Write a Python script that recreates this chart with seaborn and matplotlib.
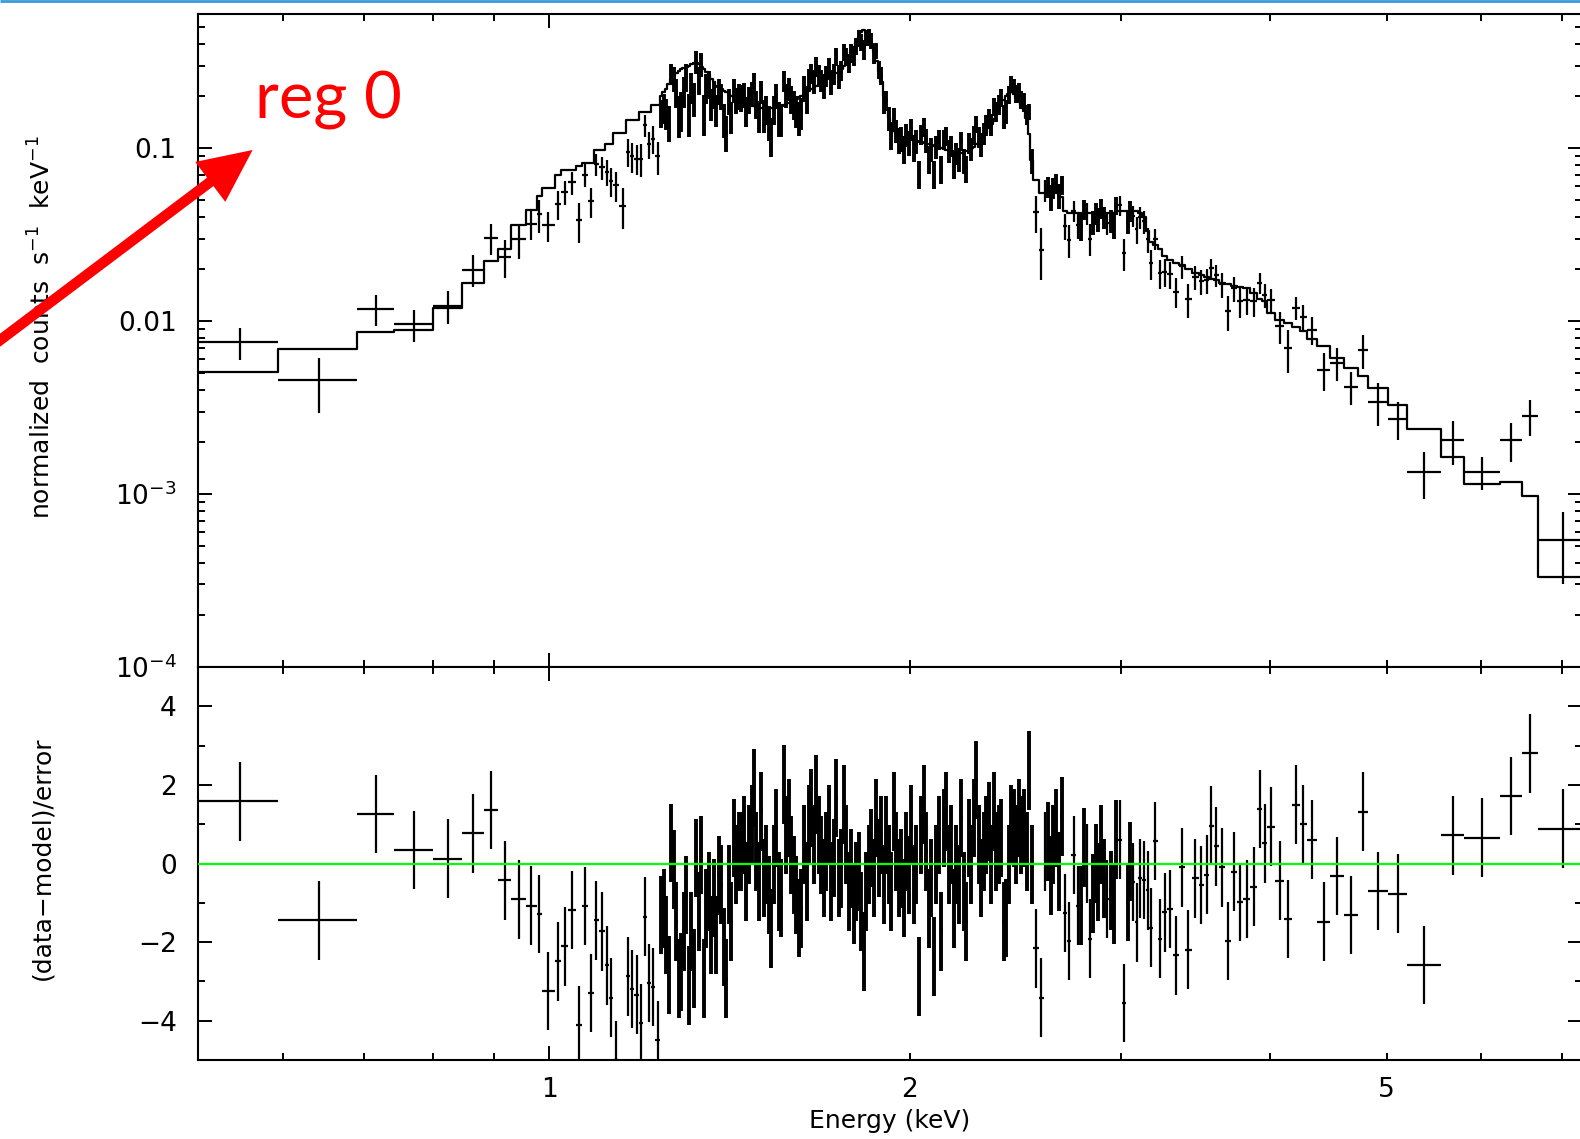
import numpy as np
import matplotlib
matplotlib.use("Agg")
import matplotlib.pyplot as plt
import seaborn as sns
from matplotlib.ticker import FixedLocator, FixedFormatter, FuncFormatter, NullFormatter
from matplotlib.patches import FancyArrow

# ---------------------------------------------------------------------------
# Spectrum of region 0: grouped channel edges (keV), folded model
# (counts s^-1 keV^-1), fit residuals in sigma and fractional 1-sigma errors.
# ---------------------------------------------------------------------------
bin_edges_kev = [
    # 0.5 - 1.0 keV, wide groups
    0.509, 0.594, 0.6906, 0.7428, 0.800, 0.8458, 0.8815, 0.9069, 0.9293, 0.9569, 0.9763, 0.9857,
    # 1.0 - 1.24 keV
    1.0112, 1.0229, 1.0378, 1.0525, 1.0651, 1.0781, 1.0893, 1.1011, 1.1126, 1.1214, 1.1305,
    1.1436, 1.1602, 1.1688, 1.1778, 1.1878, 1.1972, 1.2069, 1.2157, 1.2263, 1.2373,
    # 1.24 - 2.53 keV, fine groups (Mg / Si / S complex)
    1.243, 1.249, 1.255, 1.261, 1.268, 1.274, 1.280, 1.286,
    1.292, 1.299, 1.305, 1.311, 1.318, 1.324, 1.330, 1.337,
    1.343, 1.350, 1.356, 1.363, 1.369, 1.376, 1.382, 1.389,
    1.396, 1.402, 1.409, 1.416, 1.423, 1.430, 1.436, 1.443,
    1.450, 1.457, 1.464, 1.472, 1.479, 1.486, 1.493, 1.500,
    1.507, 1.515, 1.522, 1.529, 1.536, 1.544, 1.551, 1.558,
    1.566, 1.573, 1.581, 1.589, 1.597, 1.604, 1.612, 1.620,
    1.628, 1.636, 1.644, 1.651, 1.659, 1.667, 1.675, 1.683,
    1.691, 1.700, 1.708, 1.716, 1.724, 1.733, 1.741, 1.749,
    1.758, 1.766, 1.775, 1.783, 1.792, 1.800, 1.809, 1.817,
    1.826, 1.835, 1.844, 1.853, 1.862, 1.871, 1.880, 1.889,
    1.898, 1.907, 1.917, 1.926, 1.935, 1.945, 1.954, 1.963,
    1.973, 1.982, 1.992, 2.001, 2.011, 2.021, 2.030, 2.040,
    2.050, 2.060, 2.070, 2.080, 2.090, 2.100, 2.110, 2.120,
    2.130, 2.141, 2.151, 2.161, 2.172, 2.182, 2.193, 2.203,
    2.214, 2.224, 2.235, 2.246, 2.257, 2.267, 2.278, 2.289,
    2.300, 2.311, 2.322, 2.334, 2.345, 2.356, 2.367, 2.378,
    2.390, 2.402, 2.413, 2.425, 2.437, 2.449, 2.460, 2.472,
    2.484, 2.497, 2.509, 2.522, 2.534,
    # 2.53 - 4.8 keV
    2.5646, 2.5874, 2.6043, 2.6169, 2.6295, 2.6421, 2.6564, 2.6707, 2.6862, 2.7043,
    2.7267, 2.7531, 2.7737, 2.7876, 2.8000, 2.8184, 2.8374, 2.8505, 2.8659, 2.8825,
    2.8975, 2.9143, 2.9340, 2.9509, 2.9663, 2.9829, 3.0059, 3.0326, 3.0501, 3.0630,
    3.0831, 3.1033, 3.1237, 3.1490, 3.1690, 3.1922, 3.2206, 3.2479, 3.2793, 3.3192,
    3.3570, 3.3927, 3.4406, 3.4845, 3.5209, 3.5570, 3.5858, 3.6233, 3.6681, 3.7099,
    3.7515, 3.7943, 3.8479, 3.9007, 3.9353, 3.9764, 4.0389, 4.1063, 4.1731, 4.2320,
    4.2910, 4.3776, 4.4866, 4.6098, 4.7338, 4.8245,
    # hard band, wide groups
    5.0139, 5.2033, 5.5515, 5.8024, 6.2217, 6.4866, 6.6892, 7.3441,
]

model_rate = [
    0.00505, 0.00687, 0.0087, 0.0089, 0.0119, 0.0166, 0.0221, 0.026, 0.036, 0.044, 0.053,
    0.0587, 0.070, 0.0748, 0.0748, 0.0788, 0.0817, 0.0817, 0.0975, 0.0975, 0.1055, 0.1055,
    0.1217, 0.1217, 0.145, 0.145, 0.145, 0.162, 0.162, 0.162, 0.177, 0.177,
    0.200, 0.210, 0.220, 0.235, 0.250, 0.260, 0.270, 0.280,
    0.285, 0.290, 0.295, 0.300, 0.305, 0.310, 0.310, 0.305,
    0.295, 0.285, 0.275, 0.265, 0.250, 0.240, 0.230, 0.225,
    0.220, 0.215, 0.210, 0.205, 0.200, 0.195, 0.190, 0.190,
    0.185, 0.180, 0.180, 0.175, 0.175, 0.175, 0.170, 0.170,
    0.170, 0.168, 0.168, 0.168, 0.170, 0.170, 0.172, 0.175,
    0.175, 0.178, 0.180, 0.183, 0.186, 0.190, 0.193, 0.197,
    0.200, 0.205, 0.210, 0.215, 0.220, 0.225, 0.230, 0.236,
    0.240, 0.245, 0.250, 0.255, 0.260, 0.265, 0.270, 0.275,
    0.285, 0.300, 0.320, 0.340, 0.360, 0.385, 0.410, 0.440,
    0.470, 0.480, 0.470, 0.440, 0.400, 0.360, 0.320, 0.280,
    0.240, 0.200, 0.170, 0.150, 0.135, 0.125, 0.120, 0.118,
    0.116, 0.115, 0.114, 0.113, 0.112, 0.111, 0.110, 0.109,
    0.108, 0.107, 0.106, 0.105, 0.104, 0.103, 0.102, 0.101,
    0.100, 0.099, 0.098, 0.097, 0.096, 0.095, 0.094, 0.094,
    0.094, 0.095, 0.096, 0.098, 0.100, 0.102, 0.105, 0.108,
    0.112, 0.117, 0.123, 0.130, 0.138, 0.147, 0.157, 0.168,
    0.180, 0.190, 0.200, 0.205, 0.210, 0.205, 0.195, 0.185,
    0.175, 0.165, 0.150, 0.120, 0.085,
    0.065, 0.0548, 0.0548, 0.0548, 0.0548, 0.0548, 0.0548, 0.0548, 0.052,
    0.043, 0.042, 0.042, 0.042, 0.042, 0.042, 0.042, 0.042, 0.042, 0.042, 0.042, 0.042,
    0.042, 0.042, 0.042, 0.042,
    0.043, 0.043, 0.043, 0.043, 0.043, 0.043, 0.043,
    0.042, 0.040, 0.033, 0.0285, 0.0276, 0.026, 0.0237, 0.0226, 0.0217, 0.021, 0.020,
    0.019, 0.0185, 0.018, 0.0175, 0.0172, 0.0166, 0.0164, 0.016, 0.0157, 0.0155, 0.0145,
    0.0135, 0.013, 0.0112, 0.0102, 0.0097, 0.0092, 0.0088, 0.0079, 0.00714, 0.00612,
    0.00536, 0.0048,
    0.00408, 0.00325, 0.00238, 0.00164, 0.00115, 0.00117, 0.00098, 0.00033,
]

delchi = [
    1.58, -1.45, 1.26, 0.34, 0.12, 0.77, 1.36, -0.43, -0.91, -1.07, -1.29,
    -3.24, -2.49, -2.11, -1.18, -4.12, -1.08, -3.30, -1.45, -1.73, -2.59, -3.41,
    -5.00, -6.20, -2.87, -3.19, -3.34, -4.06, -1.35, -3.04, -3.14, -4.49,
    -1.31, -1.14, -1.82, -2.84, 0.52, -0.16, -1.48, -2.93,
    -2.76, -1.73, -0.80, -3.10, -1.73, -2.67, 0.14, -1.22,
    0.22, -2.93, -1.14, -0.71, -1.82, -0.88, -1.82, -0.30,
    -0.54, -2.12, -2.93, -0.54, -1.48, 0.65, -0.03, 0.31,
    0.31, 0.73, -0.46, 0.48, 0.99, 1.92, 0.31, -0.46,
    1.33, -0.37, -0.03, -0.80, -1.65, -0.03, 0.90, -0.71,
    -0.88, 2.01, 0.73, 1.16, 0.22, -0.29, -0.80, -1.39,
    -1.14, 0.48, -0.46, 0.99, 1.41, 0.48, 1.75, 0.73,
    0.22, -0.37, 0.31, 0.99, -0.46, 0.14, 1.67, -0.37,
    -0.12, 1.50, 0.48, -0.71, -0.12, -1.05, -0.46, -0.20,
    -1.22, -2.24, -0.71, -0.03, 0.39, -0.37, 1.16, 0.14,
    0.73, -0.54, 0.73, -0.03, -0.71, 1.33, 0.31, -0.37,
    -0.12, -0.88, 0.31, -0.29, 0.99, -0.54, -0.03, -2.87,
    0.73, 1.50, 0.31, -1.14, -0.37, -2.37, -0.03, 0.73,
    -1.73, 0.90, 1.33, -0.03, 0.48, -1.14, -0.03, -0.54,
    1.16, -0.71, -1.48, 0.65, -0.03, 1.16, 2.12, 0.48,
    -0.37, 0.31, 0.73, 1.07, -0.03, 1.33, 0.31, 0.48,
    0.65, -1.48, -1.39, -0.03, 0.99, 0.90, 0.48, 1.16,
    0.73, 0.90, 0.31, 2.37, -0.03,
    -2.16, -3.41, 0.30, 0.56, -0.30, 0.48, 0.90, -0.20, 1.20, -1.26,
    -1.97, 0.22, -1.07, -1.07, 0.40, 0.00, -1.91, -0.77, 0.00, -0.47,
    0.48, -0.38, -0.90, -0.68, -1.04, 0.61, 0.61, -3.55, -0.98, 0.05,
    -0.47, -1.50, -0.38, -0.42, -0.68, -1.63, 0.57, -1.91, -1.24, -1.16,
    -2.34, -0.10, -2.19, -0.38, -0.55, -0.28, 0.96, 0.44, -0.10, -1.97,
    -0.21, -0.98, -0.90, -0.59, 1.39, 0.51, 0.94, -0.44, -1.41, 1.50,
    1.00, 0.61, -1.48, -0.32, -1.31, 1.32,
    -0.70, -0.77, -2.58, 0.72, 0.66, 1.72, 2.80, 0.89,
]

frac_err = [
    0.31, 0.234, 0.28, 0.22, 0.22, 0.25, 0.27, 0.22, 0.19, 0.16, 0.17,
    0.12, 0.13, 0.12, 0.13, 0.125, 0.13, 0.12, 0.12, 0.12, 0.12, 0.115,
    0.10, 0.10, 0.12, 0.12, 0.12, 0.115, 0.12, 0.115, 0.115, 0.11,
    0.15, 0.16, 0.15, 0.14, 0.15, 0.16, 0.15, 0.15,
    0.15, 0.15, 0.16, 0.15, 0.15, 0.14, 0.16, 0.15,
    0.16, 0.15, 0.16, 0.16, 0.15, 0.16, 0.15, 0.16,
    0.16, 0.15, 0.14, 0.16, 0.16, 0.17, 0.17, 0.18,
    0.19, 0.19, 0.18, 0.20, 0.19, 0.19, 0.20, 0.19,
    0.19, 0.20, 0.19, 0.19, 0.18, 0.19, 0.19, 0.20,
    0.18, 0.19, 0.18, 0.18, 0.19, 0.18, 0.18, 0.17,
    0.17, 0.18, 0.17, 0.17, 0.16, 0.17, 0.17, 0.16,
    0.15, 0.16, 0.15, 0.15, 0.15, 0.14, 0.15, 0.15,
    0.13, 0.13, 0.12, 0.12, 0.12, 0.11, 0.11, 0.11,
    0.10, 0.10, 0.10, 0.11, 0.11, 0.11, 0.12, 0.12,
    0.13, 0.14, 0.15, 0.16, 0.16, 0.16, 0.16, 0.16,
    0.16, 0.16, 0.16, 0.16, 0.16, 0.16, 0.16, 0.12,
    0.15, 0.16, 0.16, 0.15, 0.15, 0.13, 0.15, 0.15,
    0.14, 0.15, 0.15, 0.15, 0.15, 0.14, 0.15, 0.15,
    0.15, 0.15, 0.14, 0.15, 0.15, 0.15, 0.15, 0.15,
    0.15, 0.15, 0.15, 0.14, 0.14, 0.14, 0.14, 0.14,
    0.13, 0.13, 0.13, 0.12, 0.12, 0.12, 0.13, 0.13,
    0.13, 0.14, 0.14, 0.15, 0.16,
    0.16, 0.155, 0.15, 0.15, 0.16, 0.15, 0.15, 0.16, 0.15,
    0.14, 0.15, 0.14, 0.14, 0.15, 0.14, 0.14, 0.15, 0.14, 0.14, 0.15, 0.14,
    0.14, 0.13, 0.14, 0.14, 0.13, 0.14, 0.12, 0.13, 0.14, 0.13, 0.14, 0.14,
    0.14, 0.15, 0.15, 0.15, 0.14, 0.15, 0.15, 0.136, 0.15, 0.15, 0.15, 0.15,
    0.16, 0.16, 0.16, 0.16, 0.156, 0.16, 0.17, 0.16, 0.17, 0.17, 0.17,
    0.19, 0.19, 0.20, 0.20, 0.20, 0.21,
    0.18, 0.20, 0.17, 0.31,
    0.23, 0.21, 0.17, 0.35, 0.26, 0.44, 0.67, 0.73,
]

energy_tick_labels = {1.0: "1", 2.0: "2", 5.0: "5"}
rate_tick_values = [1e-4, 1e-3, 1e-2, 1e-1]
rate_tick_labels = [r"$10^{-4}$", r"$10^{-3}$", "0.01", "0.1"]
resid_tick_values = [-4, -2, 0, 2, 4]
resid_tick_labels = ["\u22124", "\u22122", "0", "2", "4"]

# ---------------------------------------------------------------------------
edges = np.array(bin_edges_kev)
model = np.array(model_rate)
chi = np.array(delchi)
frac = np.array(frac_err)

e_lo, e_hi = edges[:-1], edges[1:]
e_mid = 0.5 * (e_lo + e_hi)
e_half = 0.5 * (e_hi - e_lo)
sigma = frac * model
rate = model + chi * sigma

# narrow groups are packed so closely that their bars merge into a band
fine = (e_half / e_mid) < 0.003
coarse = ~fine

sns.set_theme(style="ticks")
plt.rcParams.update({
    "font.family": ["DejaVu Sans"],
    "mathtext.fontset": "dejavusans",
    "axes.linewidth": 1.5,
    "axes.edgecolor": "black",
    "text.color": "black",
    "xtick.color": "black",
    "ytick.color": "black",
})

W, H = 1580, 1139
fig = plt.figure(figsize=(W / 100, H / 100), dpi=100)
fig.patch.set_facecolor("white")

x_left, x_right = 197.5, 1582.0
y_top, y_mid, y_bot = 13.5, 667.0, 1060.0
ax_top = fig.add_axes([x_left / W, 1 - y_mid / H, (x_right - x_left) / W, (y_mid - y_top) / H])
ax_bot = fig.add_axes([x_left / W, 1 - y_bot / H, (x_right - x_left) / W, (y_bot - y_mid) / H])

xlim = (0.5087, 7.280)
lw = 1.6
lw_fine = 2.8
tick_fs = 19

for ax in (ax_top, ax_bot):
    ax.set_xscale("log")
    ax.set_xlim(*xlim)
    ax.set_facecolor("white")
    for s in ax.spines.values():
        s.set_linewidth(1.5)
        s.set_color("black")
    ax.tick_params(which="both", direction="in", top=True, right=True, bottom=True, left=True,
                   width=1.4, colors="black", labelsize=tick_fs)
    ax.tick_params(which="major", length=10)
    ax.tick_params(which="minor", length=5)
    ax.xaxis.set_major_locator(FixedLocator([1.0]))
    ax.xaxis.set_minor_locator(FixedLocator([0.6, 0.7, 0.8, 0.9, 2, 3, 4, 5, 6, 7]))

# --- folded spectrum with model -------------------------------------------
ax_top.set_yscale("log")
ax_top.set_ylim(1e-4, 0.6)
for sel, width in ((coarse, lw), (fine, lw_fine)):
    ax_top.errorbar(e_mid[sel], rate[sel], xerr=e_half[sel], yerr=sigma[sel], fmt="none",
                    ecolor="black", elinewidth=width, capsize=0, zorder=3)
step_x = list(edges)
step_y = list(model) + [model[-1]]
sns.lineplot(x=step_x, y=step_y, ax=ax_top, color="black", linewidth=lw,
             drawstyle="steps-post", estimator=None, sort=False, zorder=2)
ax_top.yaxis.set_major_locator(FixedLocator(rate_tick_values))
ax_top.yaxis.set_major_formatter(FixedFormatter(rate_tick_labels))
minor_rate = [k * 10.0 ** d for d in range(-4, 0) for k in range(2, 10) if k * 10.0 ** d <= 0.6]
ax_top.yaxis.set_minor_locator(FixedLocator(minor_rate))
ax_top.yaxis.set_minor_formatter(NullFormatter())
ax_top.tick_params(axis="x", which="both", labelbottom=False)
ax_top.tick_params(axis="y", which="both", pad=15)
ax_top.set_xlabel("")
ax_top.set_ylabel("")

# --- residuals ----------------------------------------------------------------
ax_bot.set_ylim(-5, 5)
for sel, width in ((coarse, lw), (fine, lw_fine)):
    ax_bot.errorbar(e_mid[sel], chi[sel], xerr=e_half[sel], yerr=np.ones(sel.sum()), fmt="none",
                    ecolor="black", elinewidth=width, capsize=0, zorder=3)
sns.lineplot(x=[0.45, 8.0], y=[0.0, 0.0], ax=ax_bot, color="#00ff00", linewidth=1.6, zorder=5)
ax_bot.set_xlim(*xlim)
ax_bot.yaxis.set_major_locator(FixedLocator(resid_tick_values))
ax_bot.yaxis.set_major_formatter(FixedFormatter(resid_tick_labels))
ax_bot.yaxis.set_minor_locator(FixedLocator([-3, -1, 1, 3]))
ax_bot.yaxis.set_minor_formatter(NullFormatter())


def energy_fmt(v, _pos):
    for key, lab in energy_tick_labels.items():
        if abs(v - key) < 1e-6:
            return lab
    return ""


ax_bot.xaxis.set_major_formatter(FuncFormatter(energy_fmt))
ax_bot.xaxis.set_minor_formatter(FuncFormatter(energy_fmt))
ax_bot.tick_params(axis="x", which="both", pad=12, labelsize=tick_fs)
ax_bot.tick_params(axis="y", which="both", pad=15)
ax_bot.set_xlabel("")
ax_bot.set_ylabel("")

# --- axis titles ---------------------------------------------------------------
label_fs = 18
fig.text(42 / W, 1 - 327 / H, "normalized  counts  s$^{-1}$  keV$^{-1}$", rotation=90,
         ha="center", va="center", fontsize=label_fs)
fig.text(42 / W, 1 - 858 / H, "(data\u2212model)/error", rotation=90,
         ha="center", va="center", fontsize=label_fs)
fig.text(890 / W, 1 - 1121 / H, "Energy (keV)", ha="center", va="center", fontsize=label_fs)

# --- slide annotation layer ----------------------------------------------------
ov = fig.add_axes([0, 0, 1, 1], zorder=10)
ov.set_xlim(0, W)
ov.set_ylim(H, 0)
ov.axis("off")
ov.patch.set_alpha(0)
ov.plot([0, W], [1.0, 1.0], color="#3a9ad9", linewidth=2.0, solid_capstyle="butt")
tip_x, tip_y = 252.6, 150.0
tail_x, tail_y = -30.0, 362.8
ov.add_patch(FancyArrow(tail_x, tail_y, tip_x - tail_x, tip_y - tail_y, width=10.5,
                        head_width=50, head_length=53, length_includes_head=True,
                        color="#ff0000", linewidth=0))
ov.text(255, 118.3, "reg 0", color="#ff0000", fontsize=47, family=["Lato", "DejaVu Sans"],
        ha="left", va="baseline")

fig.savefig("out.png", dpi=100, facecolor="white")
